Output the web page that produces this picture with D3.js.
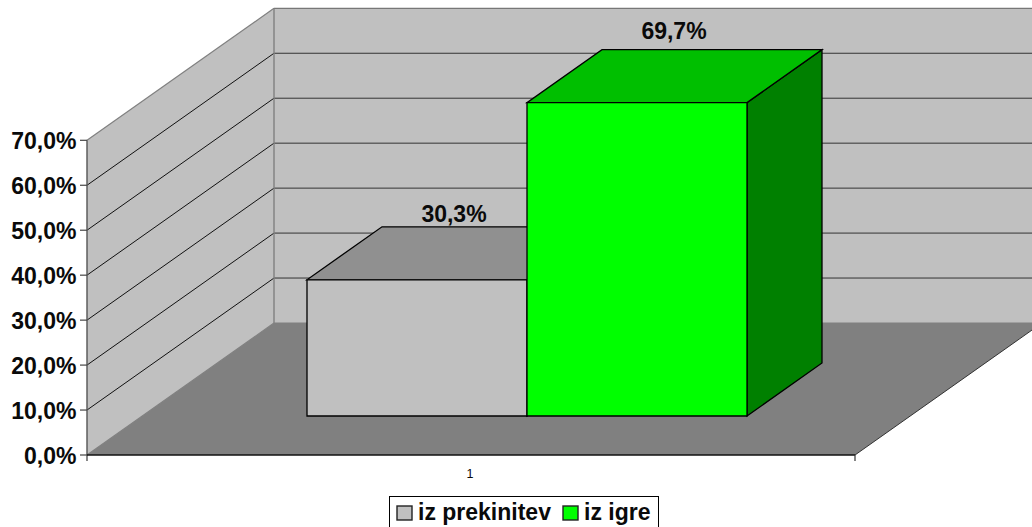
<!DOCTYPE html>
<html><head><meta charset="utf-8">
<script src="https://cdn.jsdelivr.net/npm/d3@7"></script>
<style>html,body{margin:0;padding:0;background:#fff;overflow:hidden}svg{display:block}text{font-family:"Liberation Sans",Arial,sans-serif;fill:#0a0a0a}</style>
</head><body><svg id="c" width="1032" height="527"></svg>
<script>
const categories = ["1"];
const seriesNames = ["iz prekinitev", "iz igre"];
const seriesValues = [30.3, 69.7];
const valueLabels = ["30,3%", "69,7%"];
const tickValues = [0, 10, 20, 30, 40, 50, 60, 70];
const tickLabels = ["0,0%", "10,0%", "20,0%", "30,0%", "40,0%", "50,0%", "60,0%", "70,0%"];
const frontColors = ["#c0c0c0", "#00ff00"];
const topColors = ["#909090", "#00bf00"];
const sideColors = ["#606060", "#008000"];
const labelGaps = [5, 10.5];

const svg = d3.select("#c");
const y = d3.scaleLinear().domain([0, 70]).range([455, 140.3]);
const xCat = d3.scaleBand().domain(categories).range([87, 855]);
const xBar = d3.scaleBand().domain(seriesNames).range([307, 747]);
const wall = {dx: 187, dy: -132};
const depth = {dx: 75, dy: -53};
const barBaseShift = 39;            // bars stand this far behind the front edge
const sy = v => y(v) - barBaseShift;
const line = d3.line();
const poly = (pts, fill, stroke, sw) => svg.append("path").attr("d", line(pts) + "Z")
  .attr("fill", fill).attr("stroke", stroke || "none").attr("stroke-width", sw || 0).attr("stroke-linejoin", "miter");
const seg = (a, b, stroke, sw) => svg.append("path").attr("d", line([a, b])).attr("fill", "none").attr("stroke", stroke).attr("stroke-width", sw || 1);

const x0 = xCat.range()[0], x1 = xCat.range()[1], yb = y(0), yt = y(70);
const bx = x0 + wall.dx, byb = yb + wall.dy, byt = yt + wall.dy;
// walls
poly([[x0, yb], [bx, byb], [bx, byt], [x0, yt]], "#c0c0c0");
poly([[bx, byb], [1032, byb], [1032, byt], [bx, byt]], "#c0c0c0");
// floor
poly([[x0, yb], [x1, yb], [x1 + wall.dx, byb], [bx, byb]], "#808080");
// grid
tickValues.slice(1, -1).forEach(v => {
  seg([x0, y(v)], [bx, y(v) + wall.dy], "#111", 1);
  seg([bx, y(v) + wall.dy], [1032, y(v) + wall.dy], "#333", 1);
});
// wall outlines
seg([x0, yt], [bx, byt], "#808080", 1.2);
seg([bx, byt], [1032, byt], "#777", 1.2);
seg([bx, byt], [bx, byb], "#808080", 1.4);
seg([bx, byb], [1032, byb], "#808080", 1);
seg([x0, yb], [bx, byb], "#808080", 1.2);
seg([x1, yb], [x1 + wall.dx, byb], "#333", 1);
// axes
seg([x0, yt], [x0, yb + 6], "#555", 1.4);
seg([x0, yb], [x1, yb], "#111", 1.4);
seg([x1, yb], [x1, yb + 6], "#333", 1.2);
tickValues.forEach((v, i) => {
  seg([x0 - 7, y(v)], [x0, y(v)], "#444", 1.2);
  svg.append("text").attr("x", 76.5).attr("y", y(v) + 8.5).attr("text-anchor", "end")
    .attr("font-size", 23).attr("font-weight", 700).text(tickLabels[i]);
});
svg.append("text").attr("x", xCat(categories[0]) + xCat.bandwidth() / 2 - 1).attr("y", 477.5).attr("text-anchor", "middle")
  .attr("font-size", 12.5).text(categories[0]);
// bars
seriesNames.forEach((n, i) => {
  const l = xBar(n), r = l + xBar.bandwidth(), b = sy(0), t = sy(seriesValues[i]);
  poly([[r, b], [r + depth.dx, b + depth.dy], [r + depth.dx, t + depth.dy], [r, t]], sideColors[i], "#000", 1.3);
  poly([[l, t], [r, t], [r + depth.dx, t + depth.dy], [l + depth.dx, t + depth.dy]], topColors[i], "#000", 1.3);
  poly([[l, b], [r, b], [r, t], [l, t]], frontColors[i], "#000", 1.3);
  svg.append("text").attr("x", (l + r) / 2 + depth.dx / 2 - 0.5).attr("y", t + depth.dy - labelGaps[i]).attr("text-anchor", "middle")
    .attr("font-size", 23).attr("font-weight", 700).text(valueLabels[i]);
});
// legend
svg.append("rect").attr("x", 389.5).attr("y", 496.5).attr("width", 269).attr("height", 40).attr("fill", "#fff").attr("stroke", "#000").attr("stroke-width", 1);
const legX = d3.scalePoint().domain(seriesNames).range([397, 563]);
seriesNames.forEach((n, i) => {
  const lx = legX(n);
  svg.append("rect").attr("x", lx).attr("y", 506).attr("width", 15).attr("height", 14).attr("fill", frontColors[i]).attr("stroke", "#222").attr("stroke-width", 1.4);
  svg.append("text").attr("x", lx + 21).attr("y", 520).attr("font-size", 23).attr("font-weight", 700).text(n);
});
</script></body></html>
